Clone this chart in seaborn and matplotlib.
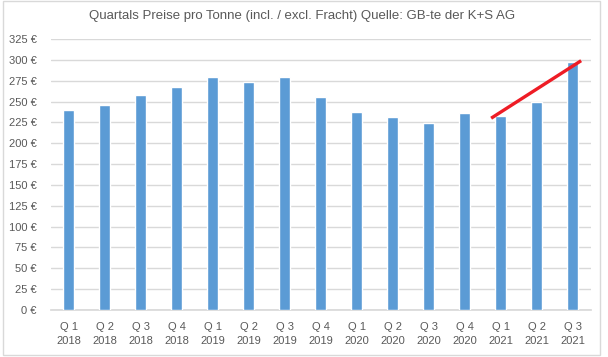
import matplotlib
matplotlib.use("Agg")
import matplotlib.pyplot as plt
from matplotlib.patches import Rectangle
import seaborn as sns
import pandas as pd

# data (EUR per tonne)
quarters = ["Q 1", "Q 2", "Q 3", "Q 4", "Q 1", "Q 2", "Q 3", "Q 4",
            "Q 1", "Q 2", "Q 3", "Q 4", "Q 1", "Q 2", "Q 3"]
years = ["2018"] * 4 + ["2019"] * 4 + ["2020"] * 4 + ["2021"] * 3
prices = [240, 246, 258, 268, 280, 273, 279, 256, 238, 231, 224, 236, 233, 250, 298]
y_ticks = list(range(0, 326, 25))
# hand drawn trend line (category position, value)
trend_x = [11.74, 14.24]
trend_y = [230, 299]

sns.set_theme(style="white")
plt.rcParams['font.family'] = ['Liberation Sans', 'DejaVu Sans']

labels = [q + "\n" + y for q, y in zip(quarters, years)]
df = pd.DataFrame({"label": labels, "price": prices})

fig = plt.figure(figsize=(6.08, 3.57), dpi=100)
ax = fig.add_axes([50.5 / 608, 1 - 310 / 357, 540 / 608, 271 / 357])

sns.barplot(data=df, x="label", y="price", color="#5B9BD5", saturation=1,
            width=0.31, ax=ax, zorder=3)
ax.plot(trend_x, trend_y, color="#EE1C25", lw=2.4, zorder=4,
        solid_capstyle="butt")

ax.set_ylim(0, 325)
ax.set_xlim(-0.5, len(prices) - 0.5)
ax.set_yticks(y_ticks)
ax.set_yticklabels([f"{v} €" for v in y_ticks])
ax.yaxis.grid(True, color="#D9D9D9", lw=1, zorder=0)
ax.set_xlabel("")
ax.set_ylabel("")
for s in ["top", "right", "left"]:
    ax.spines[s].set_visible(False)
ax.spines["bottom"].set_color("#D9D9D9")
ax.tick_params(axis="both", length=0, labelsize=8, colors="#595959")
ax.tick_params(axis="y", pad=10)
ax.tick_params(axis="x", pad=9)
for t in ax.get_xticklabels():
    t.set_linespacing(1.4)

fig.text(302.5 / 608, 1 - 16 / 357,
         "Quartals Preise pro Tonne (incl. / excl. Fracht) Quelle: GB-te der K+S AG",
         ha="center", va="center", fontsize=9.5, color="#595959")

# chart frame like the spreadsheet chart object
fig.patches.append(Rectangle((3 / 608, 1 - 355 / 357), 597 / 608, 354 / 357,
                             transform=fig.transFigure, fill=False,
                             edgecolor="#D9D9D9", lw=1))

fig.savefig("out.png", dpi=100)
